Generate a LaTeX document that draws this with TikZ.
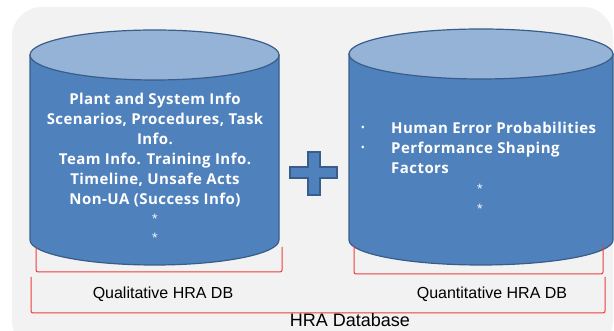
\documentclass[tikz,border=0pt]{standalone}
\usepackage{fontspec}
\setmainfont{Liberation Sans}
\newfontfamily\cylfont[LetterSpace=3]{Open Sans}
\definecolor{bodyblue}{HTML}{4F81BD}
\definecolor{topblue}{HTML}{95B3D7}
\definecolor{edgeblue}{HTML}{385D8A}
\definecolor{bggray}{HTML}{F2F2F2}
\definecolor{bracketred}{HTML}{F03C3C}
\tikzset{
  cylbody/.style={fill=bodyblue, draw=edgeblue, line width=1.2pt},
  cyltop/.style={fill=topblue, draw=edgeblue, line width=1.2pt},
  bracket/.style={draw=bracketred, line width=1pt, rounded corners=2pt},
  intext/.style={text=white, font=\cylfont\bfseries\fontsize{15}{20}\selectfont, inner sep=0pt},
  startext/.style={text=white, font=\cylfont\fontsize{11}{11}\selectfont, inner sep=0pt},
  label/.style={text=black, inner sep=0pt, anchor=base},
}
\begin{document}
\begin{tikzpicture}[x=1pt,y=1pt]
\useasboundingbox (0,0) rectangle (614,331);
% background
\fill[white] (0,0) rectangle (614,331);
\fill[bggray, rounded corners=30pt] (12,-20) rectangle (613,324);
% left cylinder
\path[cylbody] (30,276) -- (30,91) arc[start angle=180, end angle=360, x radius=124.5, y radius=25] -- (279,276) -- cycle;
\path[cyltop] (154.5,276) ellipse[x radius=124.5, y radius=25];
% right cylinder
\path[cylbody] (349,277) -- (349,91) arc[start angle=180, end angle=360, x radius=132, y radius=25] -- (613,277) -- cycle;
\path[cyltop] (481,277) ellipse[x radius=132, y radius=25];
% plus
\path[fill=bodyblue, draw=edgeblue, line width=1.2pt]
  (308,179) -- (320,179) -- (320,164) -- (337,164) -- (337,153) -- (320,153)
  -- (320,136) -- (308,136) -- (308,153) -- (290,153) -- (290,164) -- (308,164) -- cycle;
% brackets
\draw[bracket] (36,84) -- (36,59) -- (282,59) -- (282,84);
\draw[bracket] (354,86) -- (354,57) -- (603,57) -- (603,86);
\draw[bracket] (31,54) -- (31,18) -- (605,18) -- (605,54);
% left text
\node[intext, align=center, anchor=base] (qualtext) at (155,126)
  {Plant and System Info\\Scenarios, Procedures, Task\\Info.\\Team Info. Training Info.\\Timeline, Unsafe Acts\\Non-UA (Success Info)};
\node[startext, anchor=base] (qstar1) at (155,108) {*};
\node[startext, anchor=base] (qstar2) at (155,89) {*};
% right text
\node[intext, align=left, anchor=base west] (quanttext) at (391,157)
  {Human Error Probabilities\\Performance Shaping\\Factors};
\node[startext, anchor=base] (bul1) at (363,199) {\textbullet};
\node[startext, anchor=base] (bul2) at (363,179) {\textbullet};
\node[startext, anchor=base] (rstar1) at (480,138) {*};
\node[startext, anchor=base] (rstar2) at (480,118) {*};
% labels
\node[label, font=\fontsize{16}{16}\selectfont] (qualdb) at (163,32) {Qualitative HRA DB};
\node[label, font=\fontsize{16}{16}\selectfont] (quantdb) at (492,32) {Quantitative HRA DB};
\node[label, font=\fontsize{18}{18}\selectfont] (hradb) at (350,4) {HRA Database};
\end{tikzpicture}
\end{document}
